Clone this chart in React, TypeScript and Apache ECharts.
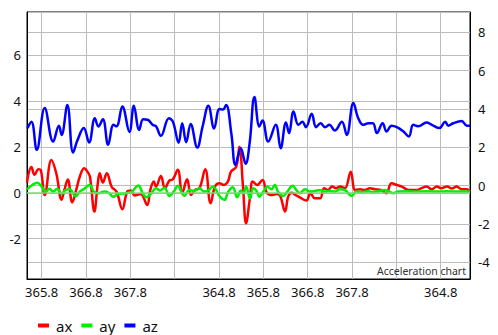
import React, { useEffect, useRef } from "react";
import * as echarts from "echarts";

// x tick labels (one per vertical grid line)
const xTickLabels = ["365.8", "366.8", "367.8", "", "364.8", "365.8", "366.8", "367.8", "", "364.8"];
const seriesNames = ["ax", "ay", "az"];
const seriesColors = ["#ff0000", "#00ee00", "#0000ff"];

// [time (grid-line units), acceleration]
const axSamples: [number, number][] = [
  [-0.33, 0.45], [-0.23, 1.12], [-0.16, 0.78], [-0.07, 1.03], [-0.02, 1.0], [0.07, -0.1], [0.22, 1.43],
  [0.33, 0.85], [0.45, -0.3], [0.51, 0.1], [0.59, 0.58], [0.69, -0.42], [0.79, 0.2], [0.86, 0.7],
  [0.96, 1.07], [1.04, 0.9], [1.09, 0.7], [1.19, -0.82], [1.26, 0.3], [1.31, 0.85], [1.38, 0.45],
  [1.47, 0.85], [1.58, 0.25], [1.69, 0.05], [1.82, -0.72], [1.93, 0.05], [2.01, 0.1], [2.1, -0.12],
  [2.23, -0.05], [2.38, -0.53], [2.45, 0.12], [2.53, 0.49], [2.58, 0.27], [2.69, 0.73], [2.78, 0.2],
  [2.88, 0.53], [2.96, 0.59], [3.07, 1.0], [3.17, -0.02], [3.28, 0.59], [3.37, -0.1], [3.46, 0.12],
  [3.56, 0.2], [3.69, 1.03], [3.81, -0.46], [3.91, 0.27], [4.01, 0.41], [4.11, 0.34], [4.2, 0.49],
  [4.27, 0.92], [4.39, 1.14], [4.46, 2.01], [4.54, 0.3], [4.61, -1.33], [4.7, -0.2], [4.76, 0.49],
  [4.86, 0.34], [4.98, 0.56], [5.08, 0.0], [5.21, -0.1], [5.3, -0.05], [5.38, -0.14], [5.49, -0.82],
  [5.56, -0.17], [5.64, 0.0], [5.73, -0.1], [5.82, -0.2], [5.97, -0.34], [6.06, -0.02], [6.16, -0.24],
  [6.28, -0.24], [6.37, 0.2], [6.46, 0.12], [6.55, 0.27], [6.64, 0.2], [6.73, 0.27], [6.84, 0.2],
  [6.97, 0.92], [7.07, 0.12], [7.18, 0.15], [7.29, 0.12], [7.4, 0.2], [7.52, 0.15], [7.65, 0.12],
  [7.77, -0.02], [7.89, 0.41], [8.01, 0.34], [8.12, 0.27], [8.23, 0.15], [8.34, 0.12], [8.45, 0.12],
  [8.57, 0.2], [8.68, 0.27], [8.8, 0.15], [8.91, 0.27], [9.01, 0.2], [9.14, 0.27], [9.25, 0.18],
  [9.36, 0.27], [9.47, 0.15], [9.59, 0.15], [9.66, 0.05],
];

const aySamples: [number, number][] = [
  [-0.33, 0.15], [-0.21, 0.34], [-0.1, 0.44], [0.0, 0.27], [0.09, 0.05], [0.18, 0.17], [0.26, 0.05],
  [0.35, 0.17], [0.45, -0.05], [0.54, 0.12], [0.63, 0.15], [0.77, -0.15], [0.86, 0.05], [0.96, 0.17],
  [1.08, 0.34], [1.18, 0.05], [1.28, -0.02], [1.41, 0.05], [1.51, 0.0], [1.61, -0.17], [1.74, -0.05],
  [1.9, -0.02], [2.03, 0.05], [2.18, 0.32], [2.28, -0.02], [2.36, -0.2], [2.46, -0.05], [2.58, 0.2],
  [2.67, 0.1], [2.77, 0.22], [2.88, -0.14], [2.98, 0.05], [3.07, 0.3], [3.15, 0.05], [3.22, -0.14],
  [3.33, 0.12], [3.43, 0.08], [3.56, 0.2], [3.66, 0.05], [3.76, 0.1], [3.86, 0.27], [4.01, -0.14],
  [4.12, -0.31], [4.21, 0.05], [4.31, 0.24], [4.41, -0.2], [4.49, 0.1], [4.55, -0.02], [4.61, 0.27],
  [4.7, -0.25], [4.77, 0.2], [4.84, 0.1], [4.91, -0.17], [5.0, 0.05], [5.09, 0.27], [5.18, 0.15],
  [5.26, 0.34], [5.33, 0.05], [5.45, -0.14], [5.54, 0.05], [5.66, 0.31], [5.75, 0.1], [5.82, -0.02],
  [5.94, 0.15], [6.05, 0.05], [6.16, 0.08], [6.28, 0.12], [6.39, 0.05], [6.5, 0.08], [6.61, 0.05],
  [6.73, 0.15], [6.84, 0.12], [6.99, -0.14], [7.1, 0.05], [7.22, 0.03], [7.36, 0.07], [7.47, 0.03],
  [7.58, 0.05], [7.74, 0.12], [7.93, -0.02], [8.04, 0.05], [8.23, 0.07], [8.46, 0.05], [8.68, 0.07],
  [8.91, 0.05], [9.14, 0.07], [9.36, 0.05], [9.66, 0.05],
];

const azSamples: [number, number][] = [
  [-0.32, 2.82], [-0.23, 3.1], [-0.11, 1.87], [0.07, 3.69], [0.26, 2.23], [0.39, 2.92], [0.45, 2.52],
  [0.58, 3.83], [0.71, 1.75], [0.81, 2.3], [0.95, 2.82], [1.07, 2.19], [1.2, 3.25], [1.28, 2.89],
  [1.38, 3.2], [1.5, 2.09], [1.62, 2.96], [1.69, 2.9], [1.82, 3.76], [1.98, 2.65], [2.08, 3.79],
  [2.2, 2.74], [2.29, 3.2], [2.39, 3.18], [2.51, 2.95], [2.58, 2.9], [2.69, 2.48], [2.87, 3.25],
  [2.96, 3.1], [3.09, 2.18], [3.17, 3.03], [3.26, 2.2], [3.36, 3.0], [3.51, 1.97], [3.63, 2.89],
  [3.76, 3.79], [3.89, 2.8], [4.01, 3.65], [4.09, 3.63], [4.16, 3.83], [4.28, 2.55], [4.37, 1.21],
  [4.49, 1.94], [4.6, 1.26], [4.69, 2.16], [4.8, 4.17], [4.91, 2.89], [4.98, 3.15], [5.11, 2.23],
  [5.28, 2.96], [5.39, 1.94], [5.51, 3.06], [5.58, 2.6], [5.68, 3.54], [5.79, 2.96], [5.88, 3.1],
  [5.96, 2.86], [6.09, 3.44], [6.19, 2.86], [6.29, 3.03], [6.39, 2.86], [6.49, 2.96], [6.61, 2.71],
  [6.77, 3.1], [6.88, 2.52], [7.03, 3.91], [7.14, 3.25], [7.25, 2.96], [7.37, 3.03], [7.47, 3.03],
  [7.56, 2.6], [7.69, 3.03], [7.78, 2.67], [7.89, 2.92], [8.01, 2.86], [8.16, 2.67], [8.28, 2.45],
  [8.38, 2.96], [8.49, 2.9], [8.68, 3.06], [8.8, 2.96], [8.97, 2.82], [9.1, 3.1], [9.17, 2.92],
  [9.28, 3.03], [9.47, 3.13], [9.59, 2.92], [9.66, 2.92],
];

const xRange = [-0.33, 9.66];
const leftRange = [-3.76, 7.88];
const rightRange = [-4.87, 9.05];

const FONT = "Noto Sans";

export default function App() {
  const ref = useRef<HTMLDivElement>(null);
  useEffect(() => {
    if (!ref.current) return;
    const chart = echarts.init(ref.current, null, { renderer: "svg" });
    const isWhole = (v: number, step: number) => Math.abs(v / step - Math.round(v / step)) < 1e-6;
    const gridLine = { show: true, lineStyle: { color: "#bcbcbc", width: 1 } };
    const axisLine = { show: true, onZero: false, lineStyle: { color: "#000" } };
    chart.setOption({
      animation: false,
      textStyle: { fontFamily: FONT },
      grid: {
        left: 27,
        right: 28,
        top: 12,
        bottom: 56,
        show: true,
        borderColor: "#000",
        borderWidth: 1,
        backgroundColor: "transparent",
        containLabel: false,
      },
      legend: {
        data: seriesNames,
        left: 33,
        top: 313,
        icon: "rect",
        itemWidth: 11,
        itemHeight: 4,
        itemGap: 9,
        textStyle: { fontSize: 15, color: "#111", fontFamily: FONT, padding: [0, 0, 0, 2] },
      },
      graphic: [
        {
          type: "text",
          right: 32,
          top: 265,
          silent: true,
          z: 100,
          style: { text: "Acceleration chart", fontSize: 10.5, fill: "#333", fontFamily: FONT },
        },
      ],
      xAxis: {
        type: "value",
        min: xRange[0],
        max: xRange[1],
        splitNumber: 10,
        minInterval: 1,
        maxInterval: 1,
        axisLine,
        axisTick: { show: false },
        splitLine: gridLine,
        axisLabel: {
          showMinLabel: false,
          showMaxLabel: false,
          margin: 6,
          fontSize: 13,
          color: "#111",
          fontFamily: FONT,
          formatter: (v: number) => (isWhole(v, 1) ? xTickLabels[Math.round(v)] ?? "" : ""),
        },
      },
      yAxis: [
        {
          type: "value",
          position: "left",
          min: leftRange[0],
          max: leftRange[1],
          minInterval: 2,
          maxInterval: 2,
          axisLine,
          axisTick: { show: false },
          splitLine: gridLine,
          axisLabel: {
            showMinLabel: false,
            showMaxLabel: false,
            margin: 6,
            fontSize: 13,
            color: "#111",
            fontFamily: FONT,
            formatter: (v: number) => (isWhole(v, 2) ? String(Math.round(v)) : ""),
          },
        },
        {
          type: "value",
          position: "right",
          min: rightRange[0],
          max: rightRange[1],
          minInterval: 2,
          maxInterval: 2,
          axisLine,
          axisTick: { show: false },
          splitLine: gridLine,
          axisLabel: {
            showMinLabel: false,
            showMaxLabel: false,
            margin: 8,
            fontSize: 13,
            color: "#111",
            fontFamily: FONT,
            formatter: (v: number) => (isWhole(v, 2) ? String(Math.round(v)) : ""),
          },
        },
      ],
      series: [
        {
          name: seriesNames[0],
          type: "line",
          yAxisIndex: 0,
          data: axSamples,
          smooth: 0.4,
          showSymbol: false,
          color: seriesColors[0],
          lineStyle: { width: 2.5, color: seriesColors[0] },
        },
        {
          name: seriesNames[1],
          type: "line",
          yAxisIndex: 0,
          data: aySamples,
          smooth: 0.4,
          showSymbol: false,
          color: seriesColors[1],
          lineStyle: { width: 2.5, color: seriesColors[1] },
          markLine: {
            silent: true,
            symbol: "none",
            label: { show: false },
            lineStyle: { color: "#77dd77", width: 1.5, type: "solid" },
            data: [{ yAxis: 0 }],
          },
        },
        {
          name: seriesNames[2],
          type: "line",
          yAxisIndex: 0,
          data: azSamples,
          smooth: 0.4,
          showSymbol: false,
          color: seriesColors[2],
          lineStyle: { width: 2.5, color: seriesColors[2] },
        },
      ],
    });
    return () => chart.dispose();
  }, []);
  return (
    <div
      ref={ref}
      style={{ position: "absolute", left: 0, top: 0, width: 498, height: 335 }}
    />
  );
}
